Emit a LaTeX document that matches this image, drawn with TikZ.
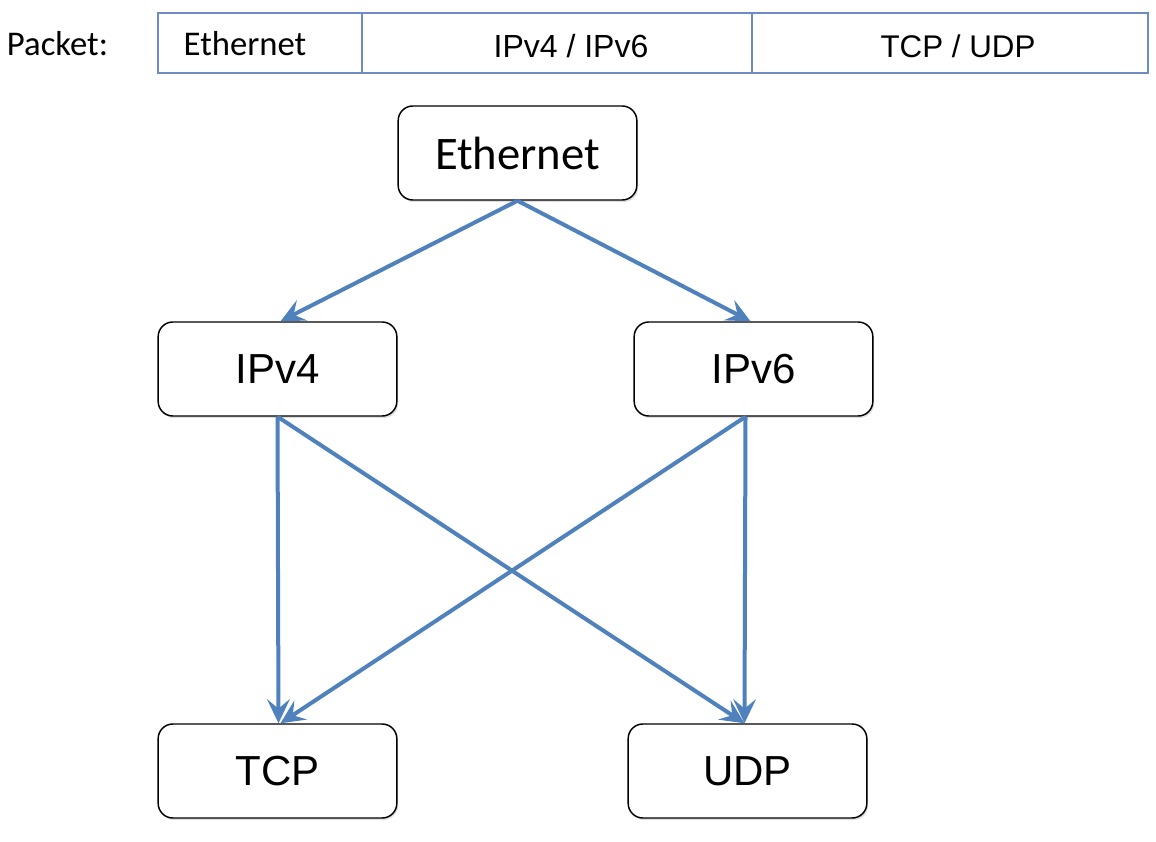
\documentclass[tikz,border=0pt]{standalone}
\usepackage{fontspec}
\setmainfont{Carlito}
\newfontfamily\arialf{Liberation Sans}
\usetikzlibrary{arrows.meta,shadows}
\definecolor{arrowblue}{RGB}{79,129,189}
\definecolor{barblue}{RGB}{110,140,195}
\begin{document}
\begin{tikzpicture}[x=0.75pt,y=-0.75pt,
  box/.style={draw=black,line width=1.1pt,rounded corners=11pt,fill=white,
    minimum width=179pt,minimum height=70.5pt,inner sep=0pt,
    drop shadow={shadow xshift=1pt,shadow yshift=-1.5pt,opacity=0.25}},
  conn/.style={draw=arrowblue,line width=3pt,-{Stealth[length=18pt,width=17pt,inset=7pt]}},
  bartext/.style={font=\fontsize{26}{30}\selectfont,inner sep=0pt}]
\useasboundingbox (0,0) rectangle (1156,842);
% packet bar
\draw[barblue,line width=1pt] (158,13) rectangle (1148,73);
\draw[barblue,line width=2pt] (362,13) -- (362,73);
\draw[barblue,line width=2pt] (752,13) -- (752,73);
\node[bartext] (plabel) at (57.5,44) {Packet:};
\node[bartext] (peth) at (245,44) {Ethernet};
\node[bartext,font=\arialf\fontsize{24}{28}\selectfont] (pip) at (571,46) {IPv4 / IPv6};
\node[bartext,font=\arialf\fontsize{23.5}{28}\selectfont] (ptcp) at (958,46) {TCP / UDP};
% nodes
\node[box,font=\fontsize{35}{40}\selectfont] (eth) at (517.5,153) {Ethernet};
\node[box,font=\arialf\fontsize{31.5}{36}\selectfont] (ipv4) at (277.5,369) {IPv4};
\node[box,font=\arialf\fontsize{31.5}{36}\selectfont] (ipv6) at (753.5,369) {IPv6};
\node[box,font=\arialf\fontsize{31.5}{36}\selectfont] (tcp) at (277.5,771) {TCP};
\node[box,font=\arialf\fontsize{31.5}{36}\selectfont] (udp) at (747.5,771) {UDP};
% connectors
\coordinate (e0) at (eth.south);
\draw[conn] (e0) -- ([xshift=2.25pt]ipv4.north);
\draw[conn] (e0) -- ([xshift=-2.25pt]ipv6.north);
\draw[conn] (ipv4.south) -- ([xshift=0.75pt]tcp.north);
\draw[conn] (ipv4.south) -- ([xshift=-2.25pt]udp.north);
\draw[conn] ([xshift=-6pt]ipv6.south) -- ([xshift=2.25pt]tcp.north);
\draw[conn] ([xshift=-6pt]ipv6.south) -- ([xshift=-2.25pt]udp.north);
\end{tikzpicture}
\end{document}
